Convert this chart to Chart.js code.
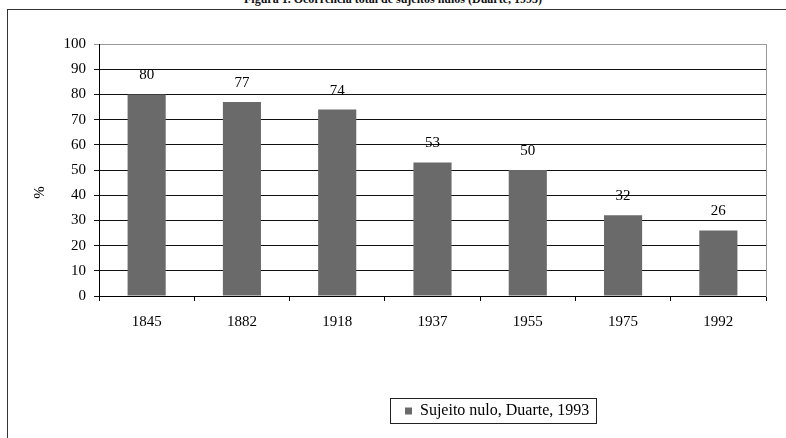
<!DOCTYPE html>
<html><head><meta charset="utf-8">
<script src="https://cdn.jsdelivr.net/npm/chart.js@4"></script>
<style>
html,body{margin:0;padding:0;background:#fff;overflow:hidden}
#wrap{position:relative;width:786px;height:438px;overflow:hidden}
#frame{position:absolute;left:7px;top:9px;right:-5px;bottom:-5px;border-left:1.5px solid #333;border-top:1.5px solid #333}
#title{position:absolute;left:0;width:786px;top:-8px;text-align:center;font:bold 12px "Liberation Serif",serif;color:#111;white-space:nowrap;line-height:14px}
canvas{position:absolute;left:0;top:0}
</style></head>
<body>
<div id="wrap">
<div id="title">Figura 1. Ocorrência total de sujeitos nulos (Duarte, 1993)</div>
<div id="frame"></div>
<canvas id="c" width="786" height="438"></canvas>
</div>
<script>
const categories = ['1845','1882','1918','1937','1955','1975','1992'];
const values = [80, 77, 74, 53, 50, 32, 26];
const seriesLabel = 'Sujeito nulo, Duarte, 1993';
const yAxisTitle = '%';
const yMin = 0, yMax = 100, yStep = 10;

const serif = 'Liberation Serif';

const valueLabels = {
  id: 'valueLabels',
  afterDatasetsDraw(chart) {
    const ctx = chart.ctx;
    const meta = chart.getDatasetMeta(0);
    ctx.save();
    ctx.font = '15px "' + serif + '"';
    ctx.fillStyle = '#000';
    ctx.textAlign = 'center';
    ctx.textBaseline = 'alphabetic';
    meta.data.forEach((el, i) => {
      ctx.fillText(String(chart.data.datasets[0].data[i]), el.x, el.y - 15);
    });
    ctx.restore();
  }
};

// place the legend block to the right of centre, as in the reference, and frame it
const legendBox = {
  id: 'legendBox',
  afterLayout(chart) {
    const lg = chart.legend;
    if (!lg || !lg.lineWidths) return;
    const pad = lg.options.labels.padding;
    const startNow = (lg.left + pad + lg.right - lg.lineWidths[0]) / 2;
    const dx = 405 - startNow;
    lg.left += dx; lg.right += dx;
  },
  afterDraw(chart) {
    const hb = chart.legend.legendHitBoxes[0];
    if (!hb) return;
    const ctx = chart.ctx;
    ctx.save();
    ctx.strokeStyle = '#222';
    ctx.lineWidth = 1;
    ctx.strokeRect(Math.round(hb.left - 15) + 0.5, Math.round(hb.top - 5) + 0.5, Math.round(hb.width + 22), 25);
    ctx.restore();
  }
};

new Chart(document.getElementById('c'), {
  type: 'bar',
  data: {
    labels: categories,
    datasets: [{
      label: seriesLabel,
      data: values,
      backgroundColor: '#6a6a6a',
      borderWidth: 0,
      barPercentage: 0.4,
      categoryPercentage: 1
    }]
  },
  options: {
    responsive: false,
    animation: false,
    layout: { padding: { top: 44, left: 0, right: 20, bottom: 9 } },
    plugins: {
      tooltip: { enabled: false },
      legend: {
        position: 'bottom',
        labels: {
          boxWidth: 7, boxHeight: 7,
          font: { family: serif, size: 16 },
          color: '#000',
          padding: 10
        }
      }
    },
    scales: {
      x: {
        grid: { display: true, drawOnChartArea: false, drawTicks: true, tickLength: 5, color: '#000', offset: true },
        border: { color: '#000', width: 1 },
        ticks: { font: { family: serif, size: 15 }, color: '#000', padding: 12, maxRotation: 0 },
        afterFit: s => { s.height = 97; }
      },
      y: {
        min: yMin, max: yMax,
        ticks: { stepSize: yStep, font: { family: serif, size: 15 }, color: '#000', padding: 8 },
        grid: { color: ctx => (ctx.tick && ctx.tick.value === yMax) ? '#999' : '#111', tickLength: 5, drawTicks: true, lineWidth: 1 },
        border: { color: '#000', width: 1 },
        title: { display: true, text: yAxisTitle + '            ', font: { family: serif, size: 15 }, color: '#000', padding: { top: 31, bottom: 0 } },
        afterFit: s => { s.width = 99; }
      },
      y2: {
        position: 'right',
        display: true,
        ticks: { display: false },
        grid: { drawOnChartArea: false, drawTicks: false },
        border: { color: '#999', width: 1 },
        afterFit: s => { s.width = 0; }
      }
    }
  },
  plugins: [valueLabels, legendBox]
});
</script>
</body></html>
